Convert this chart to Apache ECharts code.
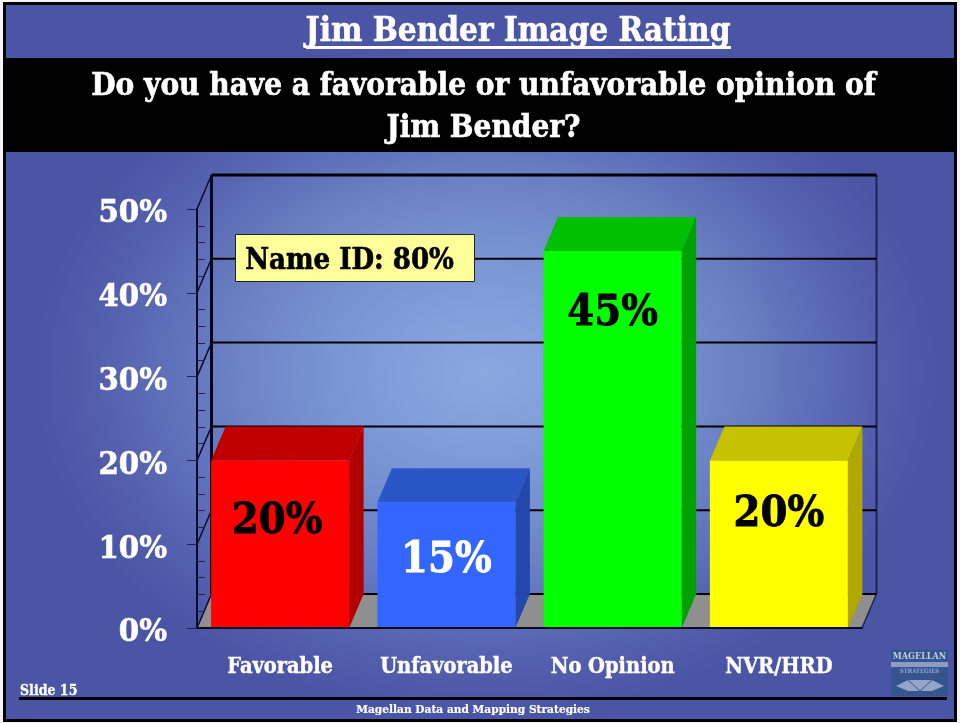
<!DOCTYPE html>
<html><head><meta charset="utf-8">
<script src="https://cdn.jsdelivr.net/npm/echarts@6/dist/echarts.min.js"></script>
<style>
html,body{margin:0;padding:0;background:#f4f4f8;}
#c{position:absolute;left:3px;top:2px;width:954px;height:720px;box-sizing:border-box;border:3px solid #000;
background:#4a55a5 radial-gradient(ellipse 450px 340px at 480px 368px,#8aa8e0 0%,#7c99d6 30%,#6a80c4 58%,#5663b0 82%,#4a55a5 100%);}
#m{position:absolute;left:0;top:0;width:960px;height:723px;}
</style></head><body><div id="c"></div><div id="m"></div>
<script>
const categories = ['Favorable','Unfavorable','No Opinion','NVR/HRD'];
const values = [20,15,45,20];
const labelLevels = [12.7,8.05,37.5,13.55];
const labelShift = [-3,0,0,0];
const labelColors = ['#000','#fff','#000','#000'];
const frontColors = ['#ff0000','#3366ff','#00ff00','#ffff00'];
const topColors = ['#c00000','#2a56c8','#00c000','#c6c200'];
const sideColors = ['#b00000','#2347aa','#00a000','#b0a800'];
const gridValues = [0,10,20,30,40,50];
const FONT = '"DejaVu Serif Condensed","DejaVu Serif",serif';
const DX = 14.5, DY = -34, BAR = 138;
const chart = echarts.init(document.getElementById('m'),null,{renderer:'canvas'});
function poly(points,fill){return {type:'polygon',shape:{points},style:{fill}};}
function txt(text,x,y,size,fill,z,align,sw){return {type:'text',x,y,z:z||20,style:{text,fill,stroke:fill,lineWidth:sw===undefined?0.6:sw,font:'bold '+size+'px '+FONT,textAlign:align||'center',textVerticalAlign:'middle'}};}
function rect(x,y,w,h,fill,z,stroke){return {type:'rect',z:z||5,shape:{x,y,width:w,height:h},style:{fill,stroke:stroke||null,lineWidth:stroke?1:0}};}
chart.setOption({
  animation:false,
  backgroundColor:'transparent',
  grid:{left:197,right:98,top:209,bottom:95,containLabel:false},
  xAxis:{type:'category',data:categories,z:10,
    axisLine:{lineStyle:{color:'#0a0a20',width:2}},
    axisTick:{length:8,lineStyle:{color:'#1c2450',width:1}},
    axisLabel:{interval:0,color:'#fff',fontFamily:FONT,fontWeight:'bold',fontSize:21.6,margin:26,padding:[2,0,0,0],textBorderColor:'#fff',textBorderWidth:0.4},
    splitLine:{show:false}},
  yAxis:{type:'value',min:0,max:50,interval:10,z:10,
    axisLine:{show:true,lineStyle:{color:'#0a0a30',width:2}},
    axisTick:{show:true,length:10,lineStyle:{color:'#1c2450',width:1}},
    minorTick:{show:true,splitNumber:5,length:-8,lineStyle:{color:'#1c2450',width:1}},
    axisLabel:{color:'#fff',fontFamily:FONT,fontWeight:'bold',fontSize:32.5,margin:30,verticalAlign:'top',lineHeight:10,textBorderColor:'#fff',textBorderWidth:0.6,formatter:'{value}%'},
    splitLine:{show:false}},
  series:[
    {type:'custom',z:1,silent:true,data:gridValues,clip:false,encode:{x:-1,y:0},
     renderItem(p,api){
      const v=api.value(0), cs=p.coordSys;
      const y=api.coord([0,v])[1], xl=cs.x, xr=cs.x+cs.width;
      const ch=[];
      if(v===0){
        ch.push(poly([[xl,y],[xl+DX,y+DY],[xr+DX,y+DY],[xr,y]],'#8f8f8f'));
        ch.push({type:'line',shape:{x1:xl+DX,y1:cs.y+DY,x2:xl+DX,y2:y+DY},style:{stroke:'#06061a',lineWidth:3}});
        ch.push({type:'line',shape:{x1:xr+DX,y1:cs.y+DY,x2:xr+DX,y2:y+DY},style:{stroke:'#1c2450',lineWidth:2}});
        ch.push({type:'line',shape:{x1:xr,y1:y,x2:xr+DX,y2:y+DY},style:{stroke:'#1c2450',lineWidth:1.5}});
      }
      ch.push({type:'line',shape:{x1:xl+DX,y1:y+DY,x2:xr+DX,y2:y+DY},style:{stroke:'#000',lineWidth:v===50?3:2}});
      ch.push({type:'line',shape:{x1:xl,y1:y,x2:xl+DX,y2:y+DY},style:{stroke:'#0a0a30',lineWidth:1.5}});
      return {type:'group',children:ch};
     }},
    {type:'custom',z:3,silent:true,clip:false,
     data:values.map((v,i)=>[i,v]),encode:{x:0,y:1},
     renderItem(p,api){
      const i=api.value(0), v=api.value(1);
      const a=api.coord([i,v]), b=api.coord([i,0]);
      const l=a[0]-BAR/2, r=a[0]+BAR/2, t=a[1], bt=b[1];
      return {type:'group',children:[
        poly([[l,t],[l+DX,t+DY],[r+DX,t+DY],[r,t]],topColors[i]),
        poly([[r,t],[r+DX,t+DY],[r+DX,bt+DY],[r,bt]],sideColors[i]),
        poly([[l,t],[r,t],[r,bt],[l,bt]],frontColors[i])
      ]};
     }},
    {type:'custom',z:4,silent:true,clip:false,
     data:values.map((v,i)=>[i,labelLevels[i],v]),encode:{x:0,y:1},
     renderItem(p,api){
      const i=api.value(0), a=api.coord([i,api.value(1)]);
      return {type:'text',x:a[0]+labelShift[i],y:a[1],style:{text:api.value(2)+'%',fill:labelColors[i],stroke:labelColors[i],lineWidth:0.8,font:'bold 43px '+FONT,textAlign:'center',textVerticalAlign:'middle'}};
     }}
  ],
  graphic:{elements:[
    rect(5,58,952,94,'#000',5),
    txt('Jim Bender Image Rating',518,32,33,'#fff'),
    rect(306,46,425,3,'#fff',20),
    txt('Do you have a favorable or unfavorable opinion of',483.5,87,31.2,'#fff'),
    txt('Jim Bender?',483.5,129,31.2,'#fff'),
    rect(235.5,234.5,239,47,'#ffff99',30,'#222'),
    txt('Name ID: 80%',349.5,261,29,'#000',31),
    txt('Slide 15',20,691,14,'#fff',20,'left',0.3),
    rect(19,697,928,3,'#000',20),
    txt('Magellan Data and Mapping Strategies',473,710,11.8,'#fff',20,'center',0.2),
    rect(891,650,57,46,'#35558e',15),
    rect(891,662,57,5,'#8d9cc0',16),
    txt('MAGELLAN',919.5,657,9,'#c4cce0',17,'center',0),
    txt('STRATEGIES',919.5,671,6,'#9aa8c8',17,'center',0),
    {type:'polygon',z:17,shape:{points:[[896,686],[908,680],[932,680],[944,686],[932,691],[908,691]]},style:{fill:'rgba(190,200,225,0.7)'}},
    {type:'line',z:18,shape:{x1:908,y1:680,x2:920,y2:691},style:{stroke:'#35558e',lineWidth:1}},
    {type:'line',z:18,shape:{x1:932,y1:680,x2:920,y2:691},style:{stroke:'#35558e',lineWidth:1}}
  ]}
});
</script></body></html>
